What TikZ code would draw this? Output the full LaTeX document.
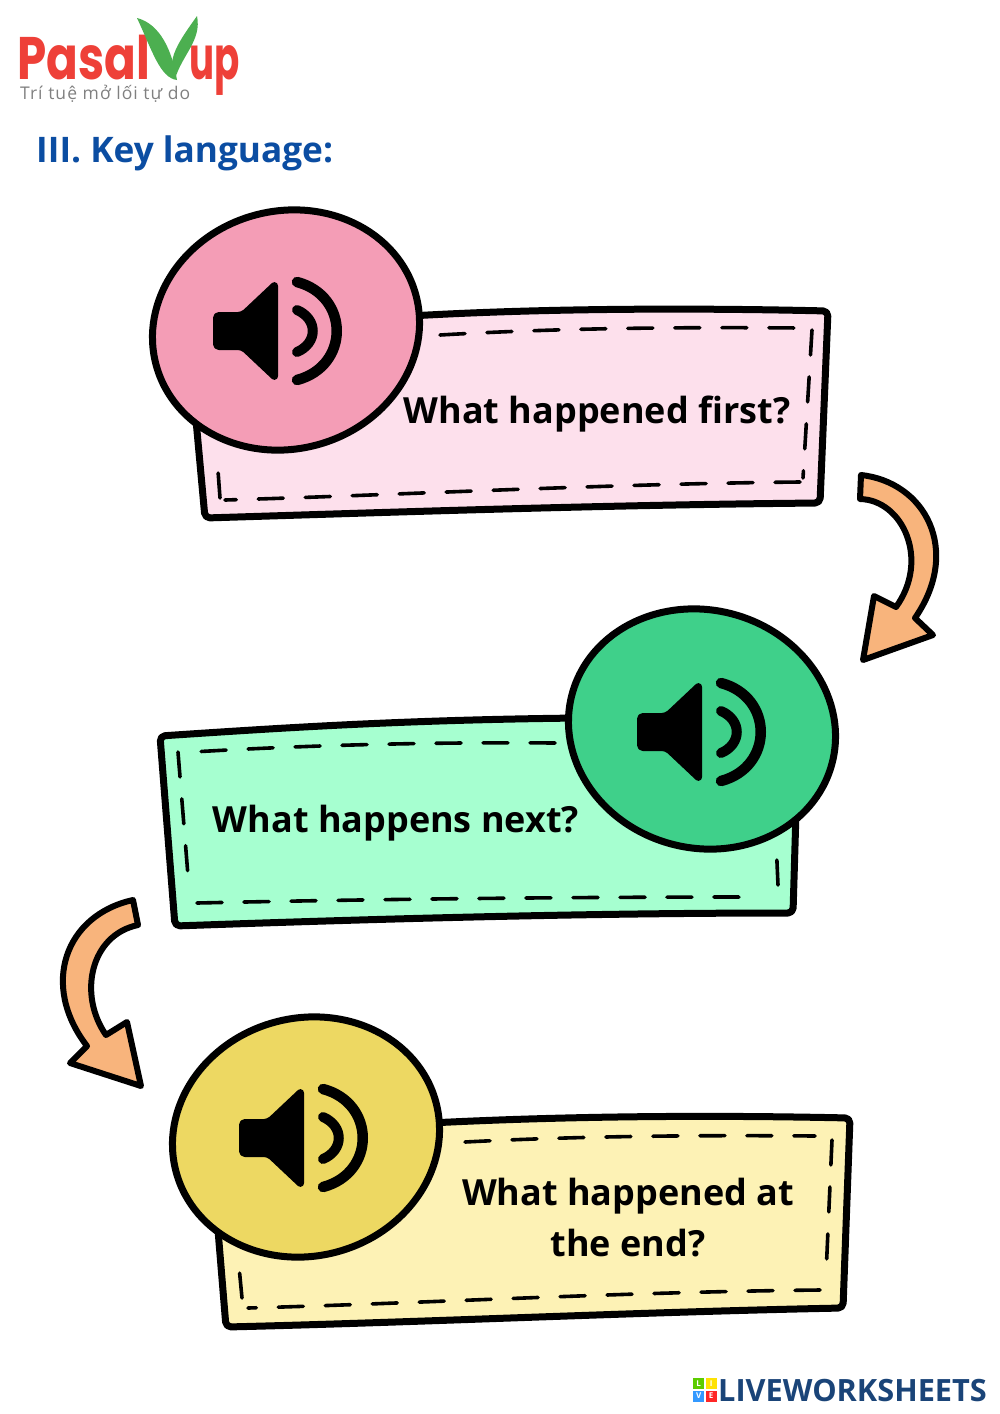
\documentclass[tikz,border=0pt]{standalone}
\usepackage{fontspec}
\setmainfont{Open Sans}
\newfontfamily\logofont{Poppins}
\newfontfamily\slogantype[LetterSpace=6]{Open Sans}
\usetikzlibrary{shapes.geometric}
\definecolor{pinklight}{HTML}{FDE0EC}
\definecolor{pinkdark}{HTML}{F49DB6}
\definecolor{greenlight}{HTML}{A6FFD0}
\definecolor{greendark}{HTML}{3FD08A}
\definecolor{yellowlight}{HTML}{FDF2B5}
\definecolor{yellowdark}{HTML}{EDD862}
\definecolor{arrowfill}{HTML}{F8B47C}
\definecolor{titleblue}{HTML}{0B4DA2}
\definecolor{logored}{HTML}{EE4038}
\definecolor{logogreen}{HTML}{4CAF50}
\definecolor{sheetblue}{HTML}{1A4478}
\tikzset{
    %Define style for boxes
    labelbox/.style={
           draw=black,
           line width=7pt,
           line join=round,
           rounded corners=5pt},
    stitch/.style={
           draw=black,
           line width=3.6pt,
           line cap=round,
           dash pattern=on 25pt off 22pt},
    badge/.style={
           ellipse,
           draw=black,
           line width=7pt,
           inner sep=0pt,
           minimum width=269pt,
           minimum height=238pt},
    question/.style={
           font=\fontsize{36}{51}\selectfont\bfseries,
           align=center,
           inner sep=0pt},
    logotext/.style={
           anchor=base west,
           inner sep=0pt,
           text=logored,
           font=\logofont\fontsize{60}{60}\selectfont\bfseries},
    bendarrow/.style={
           draw=black,
           fill=arrowfill,
           line width=6pt,
           line join=round},
    tile/.style={
           minimum size=11pt,
           inner sep=0pt,
           text=white,
           font=\fontsize{8}{8}\selectfont\bfseries},
    %Define the loudspeaker
    speaker/.pic={
           \fill[black,draw=black,line width=4pt,line join=round,rounded corners=4pt]
              (-63,-17) -- (-36,-17) -- (-2,-49) -- (-2,49) -- (-36,17) -- (-63,17) -- cycle;
           \draw[line width=10.5pt,line cap=round] (19,-49) .. controls (72,-35) and (72,35) .. (19,49);
           \draw[line width=10pt,line cap=round] (19,-21) .. controls (40,-12) and (40,12) .. (19,21);
           }
}
\begin{document}
\begin{tikzpicture}[x=1pt,y=-1pt]
\useasboundingbox[fill=white] (0,0) rectangle (1000,1414);
% logo
\node[logotext,xscale=.78] (pasal) at (17,79) {Pasal};
\node[logotext,xscale=.62] (up) at (189,79) {up};
\fill[logogreen] (137,18) .. controls (160,24) and (172,50) .. (177,80) .. controls (160,78) and (152,50) .. cycle;
\fill[logogreen] (197,16) .. controls (202,40) and (182,55) .. (175,79) .. controls (165,60) and (180,40) .. cycle;
\node[anchor=base west,inner sep=0pt,text=black!50,font=\slogantype\fontsize{17.5}{17.5}\selectfont] (slogan) at (20,99) {Trí tuệ mở lối tự do};
\node[anchor=base west,inner sep=0pt,text=titleblue,font=\fontsize{35.2}{35.2}\selectfont\bfseries] (title) at (36,162) {III. Key language:};
% first box
\draw[labelbox,fill=pinklight] (410,316) .. controls (550,308) and (700,308) .. (828,311) -- (820,503) .. controls (600,505) and (400,512) .. (205,518) -- (196,420) -- cycle;
\draw[stitch] (440,335) .. controls (560,328) and (680,327) .. (800,328);
\draw[stitch] (812,330) -- (803,478);
\draw[stitch] (800,482) .. controls (600,484) and (400,495) .. (225,500);
\draw[stitch] (220,498) -- (217,457);
\node[badge,fill=pinkdark,rotate=15] (pinkbadge) at (286,330) {};
\node[question] (first) at (597,414) {What happened first?};
\pic at (278,331) {speaker};
% second box
\draw[labelbox,fill=greenlight] (580,718) .. controls (400,720) and (280,728) .. (160,736) -- (175,926) .. controls (400,918) and (600,913) .. (793,913) -- (796,812) -- cycle;
\draw[stitch] (555,743) .. controls (430,742) and (310,745) .. (192,752);
\draw[stitch] (178,752) -- (189,888);
\draw[stitch] (197,903) .. controls (380,899) and (570,897) .. (755,897);
\draw[stitch] (778,885) -- (776,840);
\node[question] (next) at (396,823) {What happens next?};
\node[badge,fill=greendark,rotate=-15] (greenbadge) at (702,729) {};
\pic at (702,732) {speaker};
% third box
\draw[labelbox,fill=yellowlight] (430,1123) .. controls (570,1116) and (710,1115) .. (850,1118) -- (843,1308) .. controls (640,1312) and (430,1322) .. (226,1327) -- (218,1230) -- cycle;
\draw[stitch] (465,1142) .. controls (580,1136) and (700,1135) .. (815,1136);
\draw[stitch] (832,1140) -- (826,1275);
\draw[stitch] (820,1290) .. controls (620,1292) and (430,1303) .. (248,1308);
\draw[stitch] (242,1298) -- (238,1256);
\node[question] (atend) at (628,1218) {What happened at\\the end?};
\node[badge,fill=yellowdark,rotate=15] (yellowbadge) at (306,1137) {};
\pic at (304,1138) {speaker};
% arrows
\draw[bendarrow] (861,475) .. controls (925,482) and (962,550) .. (915,618) -- (933,635) -- (863,660) -- (874,596) -- (896,607) .. controls (930,560) and (903,500) .. (860,499) -- cycle;
\draw[bendarrow] (133,900) .. controls (65,915) and (40,985) .. (87,1046) -- (70,1063) -- (141,1086) -- (127,1022) -- (106,1035) .. controls (78,995) and (90,935) .. (138,925) -- cycle;
% footer
\node[tile,fill=green!55!yellow!80!black,anchor=north west] (tileL) at (693,1378) {L};
\node[tile,fill=yellow!85!orange,anchor=west] (tileI) at (tileL.east) [xshift=1pt] {I};
\node[tile,fill=blue!50!cyan!80,anchor=north] (tileV) at (tileL.south) [yshift=-1pt] {V};
\node[tile,fill=red!80!pink,anchor=west] (tileE) at (tileV.east) [xshift=1pt] {E};
\node[anchor=base west,inner sep=0pt,text=sheetblue,font=\fontsize{30.7}{30.7}\selectfont\bfseries] (sheets) at (718,1401) {LIVEWORKSHEETS};
\end{tikzpicture}
\end{document}
